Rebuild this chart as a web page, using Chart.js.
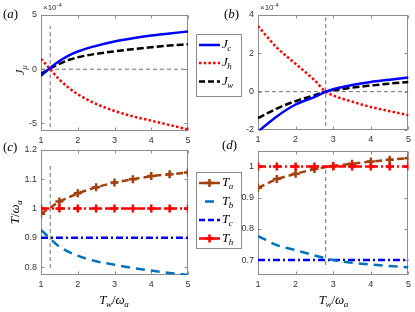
<!DOCTYPE html>
<html>
<head>
<meta charset="utf-8">
<script src="https://cdn.jsdelivr.net/npm/chart.js@4/dist/chart.umd.min.js"></script>
<style>
  body { margin: 0; background: #fff; }
  #wrap { position: relative; width: 415px; height: 312px; }
  #wrap canvas { position: absolute; left: 0; top: 0; }
</style>
</head>
<body>
<div id="wrap">
  <canvas id="pa" width="415" height="312"></canvas>
  <canvas id="pb" width="415" height="312"></canvas>
  <canvas id="pc" width="415" height="312"></canvas>
  <canvas id="pd" width="415" height="312"></canvas>
</div>
<script>
const xTicks = [1, 2, 3, 4, 5];

// (a) currents, in units of 1e-4
const xA = [1, 1.25, 1.5, 1.75, 2, 2.5, 3, 3.5, 4, 4.5, 5];
const jcA = [-0.6, 0.12, 0.75, 1.25, 1.63, 2.15, 2.55, 2.85, 3.1, 3.3, 3.48];
const jhA = [0.95, 0, -0.95, -1.7, -2.3, -3.2, -3.85, -4.35, -4.75, -5.15, -5.55];
const jwA = [-0.4, 0.05, 0.5, 0.85, 1.1, 1.42, 1.65, 1.85, 2.02, 2.18, 2.3];
const yTicksA = [-5, 0, 5];
const markA = 1.25;

// (b) currents, in units of 1e-4
const xB = [1, 1.5, 2, 2.5, 2.8, 3, 3.5, 4, 4.5, 5];
const jcB = [-2.08, -1.29, -0.67, -0.28, 0, 0.13, 0.35, 0.51, 0.62, 0.74];
const jhB = [3.42, 2.3, 1.45, 0.6, 0, -0.2, -0.52, -0.8, -1.02, -1.23];
const jwB = [-1.38, -0.88, -0.49, -0.19, 0, 0.07, 0.21, 0.32, 0.42, 0.51];
const yTicksB = [-2, 0, 2, 4];
const markB = 2.8;

// (c), (d) temperatures
const xT = [1, 1.5, 2, 2.5, 3, 3.5, 4, 4.5, 5];
const taC = [0.982, 1.024, 1.052, 1.073, 1.089, 1.100, 1.111, 1.117, 1.123];
const tbC = [0.927, 0.870, 0.839, 0.820, 0.808, 0.797, 0.788, 0.780, 0.773];
const tcC = [0.9, 0.9, 0.9, 0.9, 0.9, 0.9, 0.9, 0.9, 0.9];
const thC = [1, 1, 1, 1, 1, 1, 1, 1, 1];
const yTicksC = [0.8, 0.9, 1, 1.1, 1.2];

const taD = [0.932, 0.960, 0.977, 0.992, 1.002, 1.009, 1.016, 1.022, 1.027];
const tbD = [0.777, 0.748, 0.732, 0.715, 0.700, 0.691, 0.686, 0.681, 0.677];
const tcD = [0.7, 0.7, 0.7, 0.7, 0.7, 0.7, 0.7, 0.7, 0.7];
const thD = [1, 1, 1, 1, 1, 1, 1, 1, 1];
const yTicksD = [0.7, 0.8, 0.9, 1];

const BLUE = '#0000ff', RED = '#ff0000', BLACK = '#000000', BROWN = '#a2400e', LBLUE = '#0072bd', GRAY = '#6e6e6e';
const FRAME = '#8c8c8c';

const pts = (xs, ys) => xs.map((x, i) => ({ x, y: ys[i] }));

function curve(xs, ys, color, dash, extra) {
  return Object.assign({
    data: pts(xs, ys), borderColor: color, backgroundColor: color, borderWidth: 2.5,
    borderDash: dash, pointRadius: 0, fill: false, tension: 0.4, cubicInterpolationMode: 'monotone'
  }, extra || {});
}
function refLine(p0, p1) {
  return { data: [p0, p1], borderColor: GRAY, borderWidth: 1, borderDash: [4, 3], pointRadius: 0, fill: false, tension: 0 };
}
function marked(xs, ys, color, dash) {
  return {
    data: pts(xs, ys), borderColor: color, backgroundColor: color, borderWidth: 2.5, borderDash: dash,
    pointStyle: 'cross', pointRadius: 4, pointBorderWidth: 2.5, pointBorderColor: color, fill: false, tension: 0
  };
}

// draw "math" text made of parts [text, style]
const MFONT = {
  i: 'italic 13px "Liberation Serif"',
  r: '13px "Liberation Serif"',
  s: 'italic 9px "Liberation Serif"'
};
function mathText(ctx, parts, x, y, align) {
  let w = 0;
  const ws = parts.map(([t, st]) => { ctx.font = MFONT[st]; const m = ctx.measureText(t).width; w += m; return m; });
  let cx = align === 'center' ? x - w / 2 : x;
  ctx.textAlign = 'left';
  ctx.textBaseline = 'middle';
  parts.forEach(([t, st], i) => {
    ctx.font = MFONT[st];
    ctx.fillText(t, cx, st === 's' ? y + 4 : y);
    cx += ws[i] + (st === 'i' && parts[i + 1] && parts[i + 1][1] === 's' ? -0.5 : 0);
  });
}
function exponent(ctx, x) {
  ctx.fillStyle = '#333';
  ctx.textAlign = 'left';
  ctx.textBaseline = 'middle';
  ctx.font = '8px "Liberation Sans"';
  ctx.fillText('×10', x, 8);
  const w = ctx.measureText('×10').width;
  ctx.font = '6px "Liberation Sans"';
  ctx.fillText('-4', x + w, 5);
}
function drawLegend(ctx, box, items) {
  ctx.save();
  ctx.fillStyle = '#fff';
  ctx.fillRect(box.x, box.y, box.w, box.h);
  ctx.strokeStyle = FRAME;
  ctx.lineWidth = 1;
  ctx.setLineDash([]);
  ctx.strokeRect(box.x + 0.5, box.y + 0.5, box.w, box.h);
  items.forEach(it => {
    const ds = it.ds;
    ctx.strokeStyle = ds.borderColor;
    ctx.lineWidth = ds.borderWidth;
    ctx.setLineDash(it.dash || ds.borderDash || []);
    ctx.beginPath();
    ctx.moveTo(box.x + 3, it.y);
    ctx.lineTo(box.x + 24, it.y);
    ctx.stroke();
    if (ds.pointRadius > 0) {
      ctx.setLineDash([]);
      ctx.beginPath();
      const cx = box.x + 13.5;
      ctx.moveTo(cx - 4, it.y); ctx.lineTo(cx + 4, it.y);
      ctx.moveTo(cx, it.y - 4); ctx.lineTo(cx, it.y + 4);
      ctx.stroke();
    }
    ctx.fillStyle = '#000';
    mathText(ctx, it.label, box.x + 26, it.y, 'left');
  });
  ctx.restore();
}

const frameTicks = {
  id: 'frameTicks',
  beforeDatasetsDraw(chart) {
    const { ctx, chartArea: a, scales: { x, y } } = chart;
    ctx.save();
    ctx.strokeStyle = FRAME;
    ctx.lineWidth = 1;
    ctx.setLineDash([]);
    const l = Math.round(a.left) + 0.5, t = Math.round(a.top) + 0.5;
    const r = Math.round(a.right) - 0.5, b = Math.round(a.bottom) - 0.5;
    ctx.strokeRect(l, t, r - l, b - t);
    ctx.beginPath();
    x.ticks.forEach(tk => {
      const px = Math.round(x.getPixelForValue(tk.value)) + 0.5;
      ctx.moveTo(px, b); ctx.lineTo(px, b - 3);
      ctx.moveTo(px, t); ctx.lineTo(px, t + 3);
    });
    y.ticks.forEach(tk => {
      const py = Math.round(y.getPixelForValue(tk.value)) + 0.5;
      ctx.moveTo(l, py); ctx.lineTo(l + 3, py);
      ctx.moveTo(r, py); ctx.lineTo(r - 3, py);
    });
    ctx.stroke();
    ctx.restore();
  }
};

const tickFont = { family: '"Liberation Sans", Arial, sans-serif', size: 9 };
const Y_W = 26, X_H = 16;
function panel(id, area, yMin, yMax, yTicks, datasets, decorate) {
  return new Chart(document.getElementById(id), {
    type: 'line',
    data: { datasets },
    options: {
      responsive: false,
      animation: false,
      layout: { padding: { left: area.l - Y_W, top: area.t, right: 415 - area.r, bottom: 312 - area.b - X_H } },
      plugins: { legend: { display: false }, tooltip: { enabled: false } },
      scales: {
        x: {
          type: 'linear', min: 1, max: 5,
          afterBuildTicks: s => { s.ticks = xTicks.map(v => ({ value: v })); },
          afterFit: s => { s.height = X_H; },
          grid: { display: false, drawTicks: false },
          border: { display: false },
          ticks: { font: tickFont, color: '#333', padding: 4, maxRotation: 0, autoSkip: false, callback: v => String(+v.toFixed(3)) }
        },
        y: {
          type: 'linear', min: yMin, max: yMax,
          afterBuildTicks: s => { s.ticks = yTicks.map(v => ({ value: v })); },
          afterFit: s => { s.width = Y_W; },
          grid: { display: false, drawTicks: false },
          border: { display: false },
          ticks: { font: tickFont, color: '#333', padding: 4, autoSkip: false, callback: v => String(+v.toFixed(3)) }
        }
      }
    },
    plugins: [frameTicks, { id: 'decor', afterDraw: chart => { const c = chart.ctx; c.save(); c.fillStyle = '#000'; decorate(chart, c); c.restore(); } }]
  });
}

// (a)
panel('pa', { l: 41, r: 188, t: 15, b: 131 }, -5.7, 5, yTicksA, [
  curve(xA, jcA, BLUE, []),
  curve(xA, jhA, RED, [2.5, 2.2]),
  curve(xA, jwA, BLACK, [7, 3]),
  refLine({ x: 1, y: 0 }, { x: 5, y: 0 }),
  refLine({ x: markA, y: -5.35 }, { x: markA, y: 4.0 })
], (chart, ctx) => {
  mathText(ctx, [['(', 'r'], ['a', 'i'], [')', 'r']], 3, 15, 'left');
  exponent(ctx, 43);
  ctx.save(); ctx.translate(21, 70); ctx.rotate(-Math.PI / 2);
  mathText(ctx, [['J', 'i'], ['μ', 's']], 0, 0, 'center'); ctx.restore();
  const d = chart.data.datasets;
  drawLegend(ctx, { x: 196, y: 34, w: 45, h: 62 }, [
    { ds: d[0], y: 45, label: [['J', 'i'], ['c', 's']] },
    { ds: d[1], y: 63, label: [['J', 'i'], ['h', 's']] },
    { ds: d[2], y: 81.5, label: [['J', 'i'], ['w', 's']], dash: [6, 3] }
  ]);
});

// (b)
panel('pb', { l: 258, r: 410, t: 15, b: 130 }, -2, 4, yTicksB, [
  curve(xB, jcB, BLUE, []),
  curve(xB, jhB, RED, [2.5, 2.2]),
  curve(xB, jwB, BLACK, [7, 3]),
  refLine({ x: 1, y: 0 }, { x: 5, y: 0 }),
  refLine({ x: markB, y: -1.8 }, { x: markB, y: 4 })
], (chart, ctx) => {
  mathText(ctx, [['(', 'r'], ['b', 'i'], [')', 'r']], 224, 15, 'left');
  exponent(ctx, 260);
});

// (c)
panel('pc', { l: 41, r: 188, t: 150, b: 275 }, 0.773, 1.2, yTicksC, [
  marked(xT, thC, RED, [8, 3, 2, 3]),
  marked(xT, taC, BROWN, [7, 4]),
  curve(xT, tbC, LBLUE, [9, 6], { tension: 0.3 }),
  curve(xT, tcC, BLUE, [7, 3, 2, 3]),
  refLine({ x: markA, y: 0.797 }, { x: markA, y: 1.155 })
], (chart, ctx) => {
  mathText(ctx, [['(', 'r'], ['c', 'i'], [')', 'r']], 3, 148, 'left');
  ctx.save(); ctx.translate(16, 212); ctx.rotate(-Math.PI / 2);
  mathText(ctx, [['T', 'i'], ['/', 'r'], ['ω', 'i'], ['a', 's']], 0, 0, 'center'); ctx.restore();
  mathText(ctx, [['T', 'i'], ['w', 's'], ['/', 'r'], ['ω', 'i'], ['a', 's']], 114.5, 301, 'center');
  const d = chart.data.datasets;
  drawLegend(ctx, { x: 196, y: 172, w: 45, h: 76 }, [
    { ds: d[1], y: 183, label: [['T', 'i'], ['a', 's']], dash: [] },
    { ds: d[2], y: 201.5, label: [['T', 'i'], ['b', 's']], dash: [0, 6, 9, 6] },
    { ds: d[3], y: 220, label: [['T', 'i'], ['c', 's']], dash: [6, 3] },
    { ds: d[0], y: 238.5, label: [['T', 'i'], ['h', 's']], dash: [] }
  ]);
});

// (d)
panel('pd', { l: 258, r: 410, t: 151, b: 275 }, 0.652, 1.05, yTicksD, [
  marked(xT, thD, RED, [8, 3, 2, 3]),
  marked(xT, taD, BROWN, [7, 4]),
  curve(xT, tbD, LBLUE, [9, 6], { tension: 0.3 }),
  curve(xT, tcD, BLUE, [7, 3, 2, 3]),
  refLine({ x: markB, y: 0.684 }, { x: markB, y: 1.005 })
], (chart, ctx) => {
  mathText(ctx, [['(', 'r'], ['d', 'i'], [')', 'r']], 222, 146, 'left');
  mathText(ctx, [['T', 'i'], ['w', 's'], ['/', 'r'], ['ω', 'i'], ['a', 's']], 334, 301, 'center');
});
</script>
</body>
</html>
